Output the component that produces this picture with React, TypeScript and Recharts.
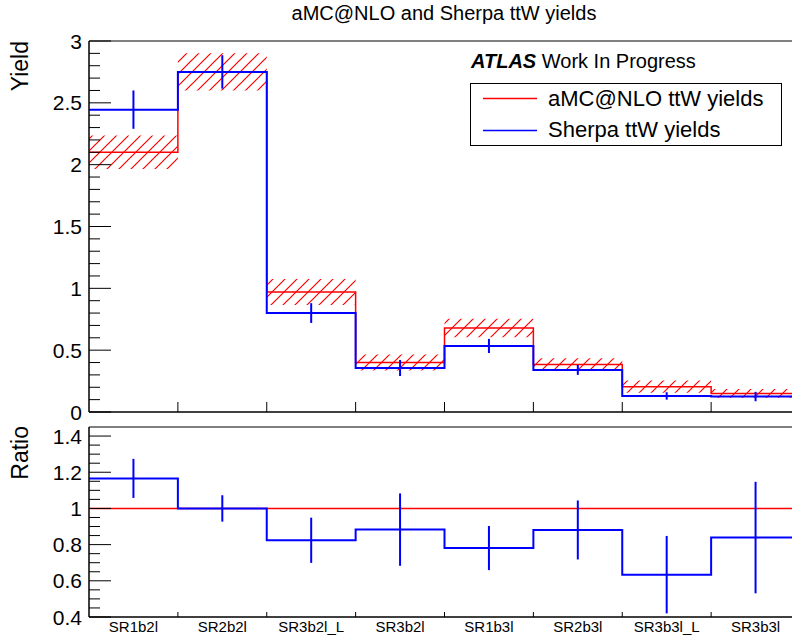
import {
  ComposedChart,
  Line,
  Area,
  Scatter,
  ErrorBar,
  XAxis,
  YAxis,
  ReferenceArea,
} from "recharts";

/* ─── Data ──────────────────────────────────────────────────── */

const regions = [
  "SR1b2l",
  "SR2b2l",
  "SR3b2l_L",
  "SR3b2l",
  "SR1b3l",
  "SR2b3l",
  "SR3b3l_L",
  "SR3b3l",
];

// aMC@NLO ttW (red, hatched stat band)
const amcYield = [2.1, 2.75, 0.97, 0.4, 0.68, 0.385, 0.205, 0.15];
const amcErr = [0.135, 0.15, 0.105, 0.065, 0.075, 0.05, 0.05, 0.035];

// Sherpa ttW (blue)
const sherpaYield = [2.445, 2.75, 0.8, 0.356, 0.534, 0.34, 0.13, 0.125];
const sherpaErr = [0.155, 0.135, 0.08, 0.065, 0.057, 0.04, 0.03, 0.038];

// Sherpa / aMC@NLO
const ratio = [1.166, 1.0, 0.824, 0.883, 0.781, 0.881, 0.634, 0.839];
const ratioErr = [0.108, 0.073, 0.125, 0.2, 0.122, 0.163, 0.214, 0.308];

const yieldMajorTicks = [0, 0.5, 1, 1.5, 2, 2.5, 3];
const ratioMajorTicks = [0.4, 0.6, 0.8, 1, 1.2, 1.4];

/* ─── Layout ────────────────────────────────────────────────── */

const FONT = '"Liberation Sans", Arial, Helvetica, sans-serif';
const CHART_W = 820; // frame runs to x=800, past the 792px page edge
const PLOT_LEFT = 89;
const TOP_H = 432;
const TOP_BOTTOM = 412; // local y of the top pad x axis
const LOW_TOP = 420;
const LOW_H = 219;
const LOW_BOTTOM = 197; // local y of the ratio pad x axis

/* ─── Helpers ───────────────────────────────────────────────── */

function steps(from: number, to: number, step: number): number[] {
  const out: number[] = [];
  const n = Math.round((to - from) / step);
  for (let i = 0; i <= n; i++) out.push(Number((from + i * step).toFixed(4)));
  return out;
}

/** Bin values → points at bin edges, for stepAfter drawing */
function edgePoints(vals: number[]) {
  return [...vals, vals[vals.length - 1]].map((v, i) => ({ x: i, v }));
}

function bandPoints(vals: number[], errs: number[]) {
  const pts = vals.map((v, i) => ({ x: i, band: [v - errs[i], v + errs[i]] }));
  pts.push({ x: vals.length, band: pts[pts.length - 1].band });
  return pts;
}

function centerPoints(vals: number[], errs: number[]) {
  return vals.map((v, i) => ({ x: i + 0.5, v, err: errs[i] }));
}

function fmt(v: number): string {
  return String(Number(v.toFixed(2)));
}

/** ROOT-style y tick: drawn inwards, label only on majors */
function makeYTick(majors: number[]) {
  return (props: any) => {
    const { y, payload } = props;
    const v = payload.value as number;
    const isMajor = majors.some((m) => Math.abs(m - v) < 1e-6);
    return (
      <g>
        <line
          x1={PLOT_LEFT}
          x2={PLOT_LEFT + (isMajor ? 22 : 11)}
          y1={y}
          y2={y}
          stroke="#000"
        />
        {isMajor && (
          <text
            x={PLOT_LEFT - 7}
            y={y}
            dy="0.36em"
            textAnchor="end"
            fontSize={21}
            fontFamily={FONT}
            fill="#000"
          >
            {fmt(v)}
          </text>
        )}
      </g>
    );
  };
}

const TopXTick = (props: any) => (
  <line
    x1={props.x}
    x2={props.x}
    y1={TOP_BOTTOM}
    y2={TOP_BOTTOM - 10}
    stroke="#000"
  />
);

const BinTick = (props: any) => {
  const { x, payload } = props;
  const v = payload.value as number;
  if (Number.isInteger(v)) {
    return (
      <line x1={x} x2={x} y1={LOW_BOTTOM} y2={LOW_BOTTOM - 5} stroke="#000" />
    );
  }
  return (
    <text
      x={x}
      y={LOW_BOTTOM + 15}
      textAnchor="middle"
      fontSize={15}
      fontFamily={FONT}
      fill="#000"
    >
      {regions[Math.floor(v)]}
    </text>
  );
};

const NoDot = () => <g />;

/* ─── Component ─────────────────────────────────────────────── */

export default function App() {
  const nBins = regions.length;
  const edgeTicks = steps(1, nBins - 1, 1);
  const binTicks = steps(0.5, nBins - 0.5, 0.5);

  return (
    <div
      style={{
        position: "absolute",
        left: 0,
        top: 0,
        width: 792,
        height: 639,
        overflow: "hidden",
        background: "#fff",
        fontFamily: FONT,
      }}
    >
      {/* ── Ratio pad ─────────────────────────────────────── */}
      <div style={{ position: "absolute", left: 0, top: LOW_TOP }}>
        <ComposedChart
          width={CHART_W}
          height={LOW_H}
          margin={{ top: 7, right: 20, bottom: 0, left: 0 }}
        >
          <XAxis
            dataKey="x"
            type="number"
            domain={[0, nBins]}
            allowDataOverflow
            ticks={binTicks}
            interval={0}
            height={22}
            tick={BinTick}
            tickLine={false}
            axisLine={{ stroke: "#000" }}
          />
          <YAxis
            type="number"
            domain={[0.4, 1.45]}
            allowDataOverflow
            ticks={steps(0.4, 1.4, 0.05)}
            interval={0}
            width={PLOT_LEFT}
            tick={makeYTick(ratioMajorTicks)}
            tickLine={false}
            axisLine={{ stroke: "#000" }}
          />
          <ReferenceArea
            x1={0}
            x2={nBins}
            y1={0.4}
            y2={1.45}
            fill="none"
            stroke="#000"
            strokeWidth={1}
          />
          <Line
            data={edgePoints(ratio.map(() => 1))}
            dataKey="v"
            type="linear"
            stroke="#ff0000"
            strokeWidth={1.5}
            dot={false}
            isAnimationActive={false}
          />
          <Line
            data={edgePoints(ratio)}
            dataKey="v"
            type="stepAfter"
            stroke="#0000ff"
            strokeWidth={2}
            dot={false}
            isAnimationActive={false}
          />
          <Scatter
            data={centerPoints(ratio, ratioErr)}
            dataKey="v"
            shape={NoDot}
            isAnimationActive={false}
          >
            <ErrorBar
              dataKey="err"
              direction="y"
              width={0}
              stroke="#0000ff"
              strokeWidth={2}
              isAnimationActive={false}
            />
          </Scatter>
        </ComposedChart>
      </div>

      {/* ── Yield pad (drawn over the ratio pad's empty top) ── */}
      <div style={{ position: "absolute", left: 0, top: 0 }}>
        <ComposedChart
          width={CHART_W}
          height={TOP_H}
          margin={{ top: 41, right: 20, bottom: 0, left: 0 }}
        >
          <XAxis
            dataKey="x"
            type="number"
            domain={[0, nBins]}
            allowDataOverflow
            ticks={edgeTicks}
            interval={0}
            height={TOP_H - TOP_BOTTOM}
            tick={TopXTick}
            tickLine={false}
            axisLine={{ stroke: "#000" }}
          />
          <YAxis
            type="number"
            domain={[0, 3]}
            allowDataOverflow
            ticks={steps(0, 3, 0.1)}
            interval={0}
            width={PLOT_LEFT}
            tick={makeYTick(yieldMajorTicks)}
            tickLine={false}
            axisLine={{ stroke: "#000" }}
          />
          <ReferenceArea
            x1={0}
            x2={nBins}
            y1={0}
            y2={3}
            fill="none"
            stroke="#000"
            strokeWidth={1}
          />
          <Area
            data={bandPoints(amcYield, amcErr)}
            dataKey="band"
            type="stepAfter"
            fill="url(#amcHatch)"
            fillOpacity={1}
            stroke="none"
            isAnimationActive={false}
          />
          <Line
            data={edgePoints(amcYield)}
            dataKey="v"
            type="stepAfter"
            stroke="#ff0000"
            strokeWidth={1.5}
            dot={false}
            isAnimationActive={false}
          />
          <Line
            data={edgePoints(sherpaYield)}
            dataKey="v"
            type="stepAfter"
            stroke="#0000ff"
            strokeWidth={2}
            dot={false}
            isAnimationActive={false}
          />
          <Scatter
            data={centerPoints(sherpaYield, sherpaErr)}
            dataKey="v"
            shape={NoDot}
            isAnimationActive={false}
          >
            <ErrorBar
              dataKey="err"
              direction="y"
              width={0}
              stroke="#0000ff"
              strokeWidth={2}
              isAnimationActive={false}
            />
          </Scatter>
        </ComposedChart>
      </div>

      {/* ── Titles, legend, hatch pattern ─────────────────── */}
      <svg
        width={792}
        height={639}
        style={{ position: "absolute", left: 0, top: 0, pointerEvents: "none" }}
        fontFamily={FONT}
      >
        <defs>
          <pattern
            id="amcHatch"
            patternUnits="userSpaceOnUse"
            width={12}
            height={12}
          >
            <path
              d="M0,12 L12,0 M-3,3 L3,-3 M9,15 L15,9"
              stroke="#ff0000"
              strokeWidth={1.2}
            />
          </pattern>
        </defs>

        <text x={444} y={20} textAnchor="middle" fontSize={20} fill="#000">
          aMC@NLO and Sherpa ttW yields
        </text>

        <text
          x={28}
          y={41}
          transform="rotate(-90, 28, 41)"
          textAnchor="end"
          fontSize={23}
          fill="#000"
        >
          Yield
        </text>
        <text
          x={28}
          y={426}
          transform="rotate(-90, 28, 426)"
          textAnchor="end"
          fontSize={23}
          fill="#000"
        >
          Ratio
        </text>

        <text x={471} y={68} fontSize={20} fill="#000">
          <tspan fontWeight="bold" fontStyle="italic">
            ATLAS
          </tspan>
          <tspan> Work In Progress</tspan>
        </text>

        <rect
          x={470.5}
          y={83.5}
          width={311}
          height={62}
          fill="#fff"
          stroke="#000"
          strokeWidth={1}
        />
        <line x1={483} x2={537} y1={98.5} y2={98.5} stroke="#ff0000" strokeWidth={1.5} />
        <text x={548} y={106} fontSize={22} fill="#000">
          aMC@NLO ttW yields
        </text>
        <line x1={483} x2={537} y1={130.5} y2={130.5} stroke="#0000ff" strokeWidth={1.5} />
        <text x={548} y={137} fontSize={22} fill="#000">
          Sherpa ttW yields
        </text>
      </svg>
    </div>
  );
}
